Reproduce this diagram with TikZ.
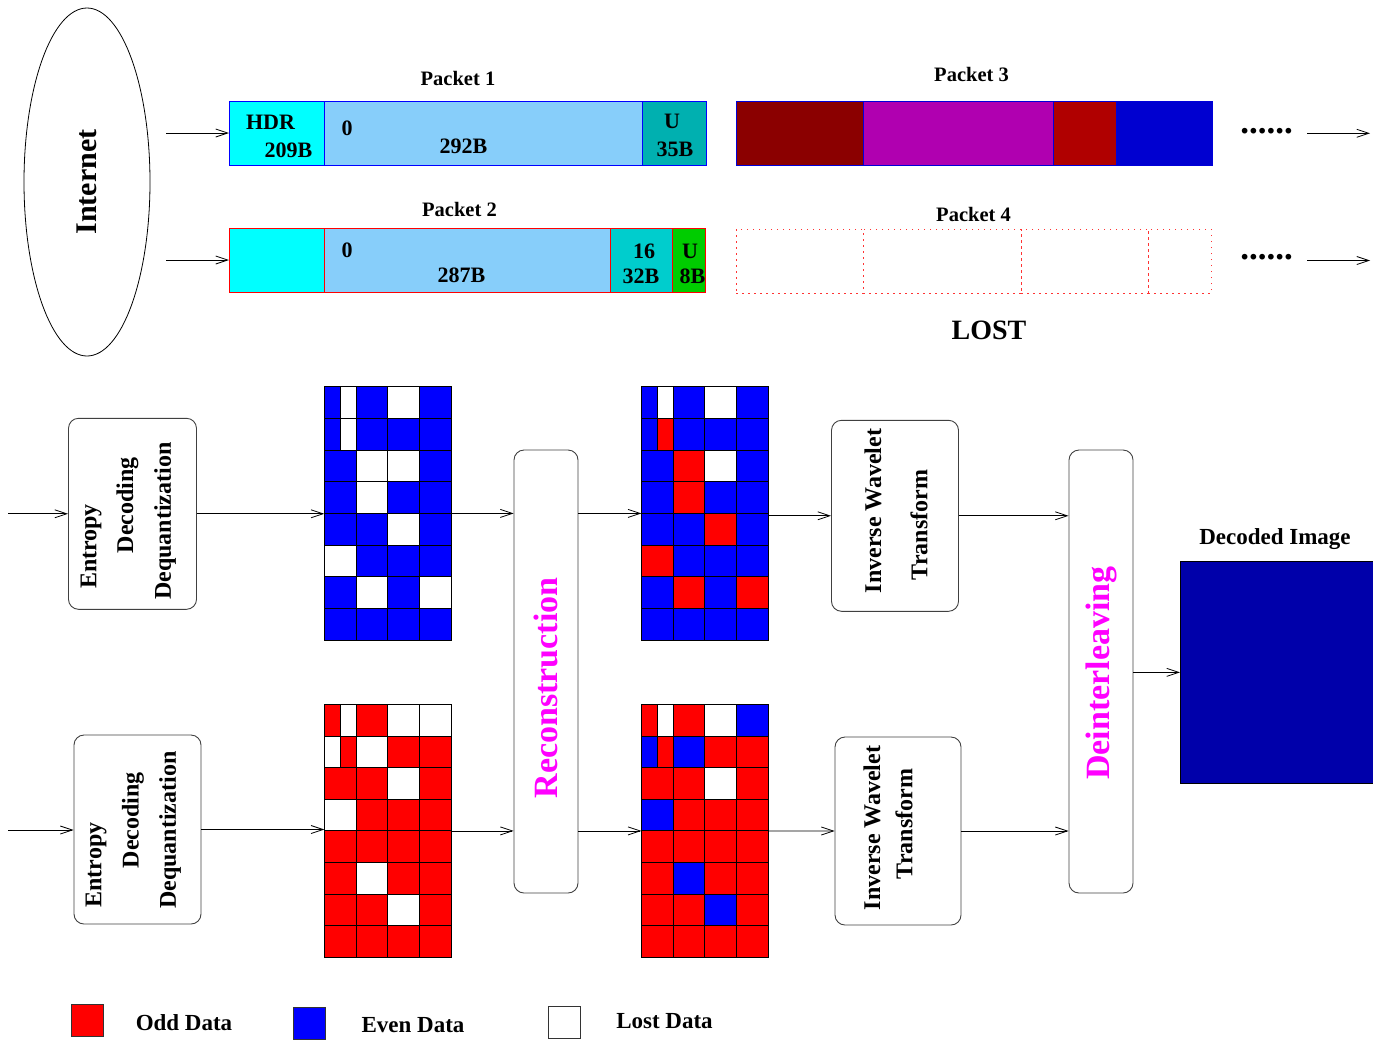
\documentclass[tikz,border=0pt]{standalone}
\usepackage{fontspec}
\setmainfont{Liberation Serif}
\usetikzlibrary{arrows.meta,positioning,shapes.geometric}
\definecolor{cellr}{HTML}{FF0000}
\definecolor{cellb}{HTML}{0000FF}
\definecolor{cellw}{HTML}{FFFFFF}
\definecolor{hdrcyan}{HTML}{00FFFF}
\definecolor{skyb}{HTML}{87CEFA}
\definecolor{tealu}{HTML}{00B0B0}
\definecolor{turq}{HTML}{00CDCD}
\definecolor{grn}{HTML}{00CC00}
\definecolor{maroon}{HTML}{8B0000}
\definecolor{purp}{HTML}{B000B0}
\definecolor{darkr}{HTML}{B00000}
\definecolor{deepb}{HTML}{0000D0}
\definecolor{imgblue}{HTML}{0000AA}
\definecolor{mag}{HTML}{FF00FF}
\tikzset{
  >={Straight Barb[length=12pt,width=8pt]},
  arr/.style={->,draw=black,line width=0.8pt},
  % boxes
  blk/.style={draw=black!75,line width=0.9pt,rounded corners=10pt,inner sep=0pt},
  stage/.style={rotate=90,inner sep=0pt,font=\fontsize{24}{28}\selectfont\bfseries},
  bigmag/.style={rotate=90,inner sep=0pt,text=mag,font=\fontsize{34}{38}\selectfont\bfseries},
  % packets
  seg/.style={anchor=north west,minimum height=64pt,inner sep=0pt,outer sep=0pt,line width=1pt},
  lostseg/.style={seg,draw=red!80,dash pattern=on 1.5pt off 4.5pt},
  lbl/.style={inner sep=0pt,font=\fontsize{22}{26}\selectfont\bfseries},
  pkt/.style={inner sep=0pt,font=\fontsize{20.5}{24}\selectfont\bfseries},
  % grids
  gridbox/.style={anchor=north west,minimum width=127.2pt,minimum height=253.2pt,
                  inner sep=0pt,outer sep=0pt},
  cell/.style={draw=black,line width=0.9pt},
  key/.style={draw=black!80,line width=0.8pt,anchor=north west,minimum size=32pt,inner sep=0pt},
  keytxt/.style={inner sep=0pt,font=\fontsize{23}{27}\selectfont\bfseries},
}
\newcommand{\datagrid}[2]{%
  \foreach \row [count=\j from 0] in {#2} {
    \foreach \lc/\rc [count=\i from 0] in \row {
      \ifx\lc\rc
        \draw[cell,fill=cell\lc] ([shift={(31.8*\i,31.65*\j)}]#1.north west) rectangle ++(31.8,31.65);
      \else
        \draw[cell,fill=cell\lc] ([shift={(31.8*\i,31.65*\j)}]#1.north west) rectangle ++(15.9,31.65);
        \draw[cell,fill=cell\rc] ([shift={(31.8*\i+15.9,31.65*\j)}]#1.north west) rectangle ++(15.9,31.65);
      \fi
    }
  }%
}
\begin{document}
\begin{tikzpicture}[x=1pt,y=-1pt]
\useasboundingbox (0,0) rectangle (1373,1039);
% network and packets
\node[ellipse,draw,line width=0.8pt,minimum width=348pt,minimum height=126pt,rotate=90,
      inner sep=0pt,font=\fontsize{30}{34}\selectfont\bfseries] (net) at (87,182) {Internet};
\coordinate (in1) at (166,133);
\coordinate (in2) at (166,260);

\node[seg,draw=blue,fill=hdrcyan,minimum width=95pt] (p1hdr) at (229,101) {};
\node[seg,draw=blue,fill=skyb,minimum width=318pt,right=0pt of p1hdr] (p1dat) {};
\node[seg,draw=blue,fill=tealu,minimum width=64pt,right=0pt of p1dat] (p1u) {};
\node[seg,draw=red,fill=hdrcyan,minimum width=95pt] (p2hdr) at (229,228) {};
\node[seg,draw=red,fill=skyb,minimum width=286pt,right=0pt of p2hdr] (p2dat) {};
\node[seg,draw=red,fill=turq,minimum width=62pt,right=0pt of p2dat] (p2a) {};
\node[seg,draw=red,fill=grn,minimum width=33pt,right=0pt of p2a] (p2u) {};
\node[seg,draw=blue!85!black,fill=maroon,minimum width=127pt] (p3a) at (736,101) {};
\node[seg,draw=blue!85!black,fill=purp,minimum width=190pt,right=0pt of p3a] (p3b) {};
\node[seg,draw=blue!85!black,fill=darkr,minimum width=63pt,right=0pt of p3b] (p3c) {};
\node[seg,draw=blue!85!black,fill=deepb,minimum width=96pt,right=0pt of p3c] (p3d) {};
\node[lostseg,minimum width=127pt] (p4a) at (736,229) {};
\node[lostseg,minimum width=158pt,right=0pt of p4a] (p4b) {};
\node[lostseg,minimum width=127pt,right=0pt of p4b] (p4c) {};
\node[lostseg,minimum width=63pt,right=0pt of p4c] (p4d) {};

\node[pkt] (t1) at (458,78) {Packet 1};
\node[pkt] (t2) at (459.5,209.5) {Packet 2};
\node[pkt] (t3) at (971.5,74.5) {Packet 3};
\node[pkt] (t4) at (973.5,214.5) {Packet 4};
\node[inner sep=0pt,font=\fontsize{28}{32}\selectfont\bfseries] (lost) at (989,330) {LOST};

\node[lbl] (hdr) at (270.5,122.5) {HDR};
\node[lbl] (hdrb) at (288.5,150.5) {209B};
\node[lbl] (p1z) at (347,128) {0};
\node[lbl] (p1n) at (463.5,146) {292B};
\node[lbl] (p1uu) at (672,121.5) {U};
\node[lbl] (p1ub) at (675,149.5) {35B};
\node[lbl] (p2z) at (347,250) {0};
\node[lbl] (p2n) at (461.5,275) {287B};
\node[lbl] (p2s) at (644,251.5) {16};
\node[lbl] (p2sb) at (641,276.5) {32B};
\node[lbl] (p2uu) at (690,251.5) {U};
\node[lbl] (p2ub) at (692.5,276.5) {8B};

\node[inner sep=0pt,font=\fontsize{35}{38}\selectfont\bfseries] (dots1) at (1266.5,131.5) {......};
\node[inner sep=0pt,font=\fontsize{35}{38}\selectfont\bfseries] (dots2) at (1266.5,257.5) {......};
\coordinate (out1a) at (1307,133.3);
\coordinate (out1b) at (1370,133.3);
\coordinate (out2a) at (1307,260.5);
\coordinate (out2b) at (1370,260.5);

\draw[arr] (in1) -- (in1 -| p1hdr.west);
\draw[arr] (in2) -- (in2 -| p2hdr.west);
\draw[arr] (out1a) -- (out1b);
\draw[arr] (out2a) -- (out2b);

% decoder stages
\coordinate (src1) at (8,513.8);
\coordinate (src2) at (8,830);
\node[blk,minimum width=128pt,minimum height=191pt] (edd1) at (132.5,513.8) {};
\node[blk,minimum width=127pt,minimum height=189pt] (edd2) at (137.5,829.5) {};
\node[stage] (e1a) at (91,546.5) {Entropy};
\node[stage] (e1b) at (127.5,505) {Decoding};
\node[stage] (e1c) at (165,521) {Dequantization};
\node[stage] (e2a) at (96,865) {Entropy};
\node[stage] (e2b) at (133,820) {Decoding};
\node[stage] (e2c) at (170,830) {Dequantization};

\node[gridbox] (evn) at (324.3,386.8) {};
\node[gridbox] (evnrec) at (641.3,386.8) {};
\node[gridbox] (odd) at (324.3,704.3) {};
\node[gridbox] (oddrec) at (641.3,704.3) {};

\node[blk,minimum width=64pt,minimum height=443pt] (rec) at (546,671.5) {};
\node[bigmag] (rectxt) at (546,688) {Reconstruction};

\node[blk,minimum width=127pt,minimum height=191pt] (iwt1) at (895,515.8) {};
\node[blk,minimum width=126pt,minimum height=188pt] (iwt2) at (898,831) {};
\node[stage] (w1a) at (873,511) {Inverse Wavelet};
\node[stage] (w1b) at (919,525) {Transform};
\node[stage] (w2a) at (872,828) {Inverse Wavelet};
\node[stage] (w2b) at (904,824) {Transform};

\node[blk,minimum width=64pt,minimum height=443pt] (dei) at (1101,671.5) {};
\node[bigmag] (deitxt) at (1101.7,673) {Deinterleaving};

\node[draw=black,line width=0.8pt,fill=imgblue,anchor=north west,inner sep=0pt,
      minimum width=193pt,minimum height=222pt] (img) at (1180,561) {};
\node[inner sep=0pt,font=\fontsize{23}{27}\selectfont\bfseries] (imgtxt) at (1275,539) {Decoded Image};

% cell data
\datagrid{evn}{{b/w,b/b,w/w,b/b},{b/w,b/b,b/b,b/b},{b/b,w/w,w/w,b/b},{b/b,w/w,b/b,b/b},
  {b/b,b/b,w/w,b/b},{w/w,b/b,b/b,b/b},{b/b,w/w,b/b,w/w},{b/b,b/b,b/b,b/b}}
\datagrid{evnrec}{{b/w,b/b,w/w,b/b},{b/r,b/b,b/b,b/b},{b/b,r/r,w/w,b/b},{b/b,r/r,b/b,b/b},
  {b/b,b/b,r/r,b/b},{r/r,b/b,b/b,b/b},{b/b,r/r,b/b,r/r},{b/b,b/b,b/b,b/b}}
\datagrid{odd}{{r/w,r/r,w/w,w/w},{w/r,w/w,r/r,r/r},{r/r,r/r,w/w,r/r},{w/w,r/r,r/r,r/r},
  {r/r,r/r,r/r,r/r},{r/r,w/w,r/r,r/r},{r/r,r/r,w/w,r/r},{r/r,r/r,r/r,r/r}}
\datagrid{oddrec}{{r/w,r/r,w/w,b/b},{b/r,b/b,r/r,r/r},{r/r,r/r,w/w,r/r},{b/b,r/r,r/r,r/r},
  {r/r,r/r,r/r,r/r},{r/r,b/b,r/r,r/r},{r/r,r/r,b/b,r/r},{r/r,r/r,r/r,r/r}}

% flow
\draw[arr] (src1) -- (edd1.west);
\draw[arr] (src2) -- (src2 -| edd2.west);
\draw[arr] (edd1.east) -- (edd1.east -| evn.west);
\draw[arr] (edd2.east) -- (edd2.east -| odd.west);
\draw[arr] (evn.east) -- (evn.east -| rec.west);
\draw[arr] (odd.east) -- (odd.east -| rec.west);
\draw[arr] (rec.east |- evnrec.west) -- (evnrec.west);
\draw[arr] (rec.east |- oddrec.west) -- (oddrec.west);
\draw[arr] (iwt1.west -| evnrec.east) -- (iwt1.west);
\draw[arr] (oddrec.east) -- (iwt2.west);
\draw[arr] (iwt1.east) -- (iwt1.east -| dei.west);
\draw[arr] (iwt2.east) -- (iwt2.east -| dei.west);
\draw[arr] (dei.east |- img.west) -- (img.west);

% legend
\node[key,fill=cellr] (kodd) at (71,1004) {};
\node[key,fill=cellb] (keven) at (293,1007) {};
\node[key,fill=cellw] (klost) at (548,1006) {};
\node[keytxt] (todd) at (184,1023) {Odd Data};
\node[keytxt] (teven) at (413,1025) {Even Data};
\node[keytxt] (tlost) at (664.5,1021) {Lost Data};
\end{tikzpicture}
\end{document}
